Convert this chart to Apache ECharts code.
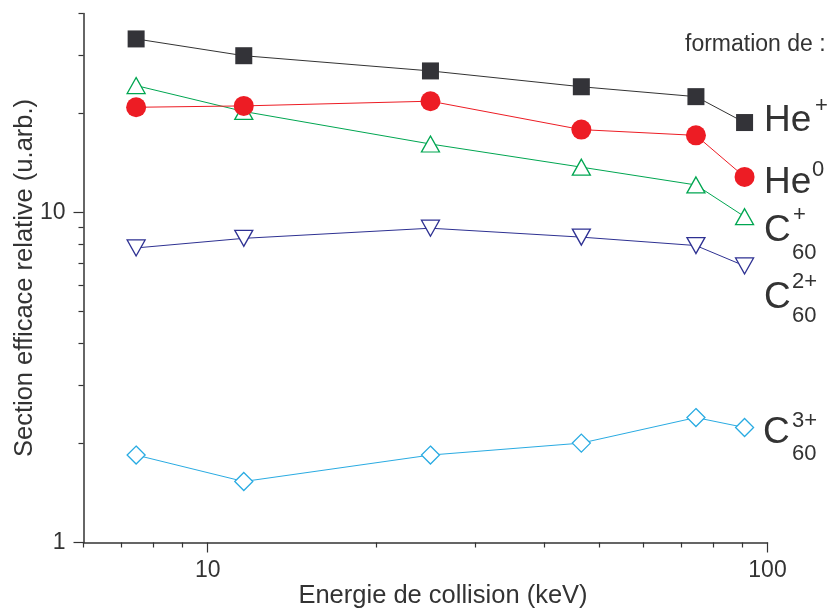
<!DOCTYPE html>
<html>
<head>
<meta charset="utf-8">
<script src="https://cdn.jsdelivr.net/npm/echarts@6/dist/echarts.min.js"></script>
<style>
  html, body { margin: 0; padding: 0; background: #ffffff; }
  #chart { width: 834px; height: 608px; }
</style>
</head>
<body>
<div id="chart"></div>
<script>
// ---- data ----
const energies      = [7.45, 11.6, 25.0, 46.5, 74.5, 91.0];   // keV
const hePlus        = [33.5, 29.8, 26.8, 24.0, 22.4, 18.7];
const heZero        = [20.8, 21.0, 21.7, 17.8, 17.1, 12.8];
const c60Plus       = [24.2, 20.2, 16.1, 13.7, 12.1, 9.7];
const c60TwoPlus    = [7.8, 8.34, 8.95, 8.41, 7.93, 6.88];
const c60ThreePlus  = [1.84, 1.53, 1.84, 2.00, 2.39, 2.23];

const xMajorTicks = [10, 100];
const xMinorTicks = [6, 7, 8, 9, 20, 30, 40, 50, 60, 70, 80, 90];
const yMajorTicks = [1, 10];
const yMinorTicks = [2, 3, 4, 5, 6, 7, 8, 9, 20, 30, 40];

const xTitle = 'Energie de collision (keV)';
const yTitle = 'Section efficace relative (u.arb.)';
const headerText = 'formation de :';

// ---- chart ----
const FONT = "'Liberation Sans', Arial, Helvetica, sans-serif";
const TXT = '#333333';
const AX = '#333333';

const pairs = arr => energies.map((e, i) => [e, arr[i]]);

const chart = echarts.init(document.getElementById('chart'), null, { renderer: 'canvas' });

function xAx(ticks, len, showLine, labels) {
  return {
    type: 'log', logBase: 10, min: 6, max: 100, position: 'bottom',
    axisLine: { show: showLine, onZero: false, lineStyle: { color: AX, width: 1.5 } },
    axisTick: { show: true, inside: false, length: len, customValues: ticks, lineStyle: { color: AX, width: 1.2 } },
    axisLabel: labels ? { show: true, customValues: labels, margin: 17, fontSize: 23, fontFamily: FONT, color: TXT } : { show: false },
    splitLine: { show: false }, minorTick: { show: false }
  };
}
function yAx(ticks, len, showLine, labels) {
  return {
    type: 'log', logBase: 10, min: 1, max: 40, position: 'left',
    axisLine: { show: showLine, onZero: false, lineStyle: { color: AX, width: 1.5 } },
    axisTick: { show: true, inside: false, length: len, customValues: ticks, lineStyle: { color: AX, width: 1.2 } },
    axisLabel: labels ? { show: true, customValues: labels, margin: 18, fontSize: 23, fontFamily: FONT, color: TXT } : { show: false },
    splitLine: { show: false }, minorTick: { show: false }
  };
}

const xMain = xAx(xMajorTicks, 10, true, xMajorTicks);
xMain.name = xTitle;
xMain.nameLocation = 'middle';
xMain.nameGap = 40;
xMain.nameMoveOverlap = false;
xMain.nameTextStyle = { fontSize: 25.5, fontFamily: FONT, color: TXT, padding: [0, 0, 0, 35] };

const yMain = yAx(yMajorTicks, 10, true, yMajorTicks);
yMain.name = yTitle;
yMain.nameLocation = 'middle';
yMain.nameGap = 46;
yMain.nameMoveOverlap = false;
yMain.nameTextStyle = { fontSize: 25.5, fontFamily: FONT, color: TXT };

function hollow(name, data, color, symbol, size, rotate, z) {
  return {
    name, type: 'line', data, xAxisIndex: 0, yAxisIndex: 0, z,
    symbol, symbolSize: size, symbolRotate: rotate, showAllSymbol: true,
    lineStyle: { color, width: 1 },
    itemStyle: { color: '#ffffff', borderColor: color, borderWidth: 1.3 },
    emphasis: { disabled: true }, animation: false
  };
}
function filled(name, data, color, lineColor, symbol, size, z) {
  return {
    name, type: 'line', data, xAxisIndex: 0, yAxisIndex: 0, z,
    symbol, symbolSize: size, showAllSymbol: true,
    lineStyle: { color: lineColor, width: 1 },
    itemStyle: { color, borderWidth: 0 },
    emphasis: { disabled: true }, animation: false
  };
}

function txt(text, x, y, size) {
  return {
    type: 'text', x, y, silent: true,
    style: { text, fontSize: size, fontFamily: FONT, fill: TXT, align: 'left', verticalAlign: 'middle' }
  };
}

chart.setOption({
  animation: false,
  backgroundColor: '#ffffff',
  grid: { left: 83.5, right: 66.5, top: 13.5, bottom: 65.5, containLabel: false, outerBoundsMode: 'none' },
  xAxis: [xMain, xAx(xMinorTicks, 5, false, null)],
  yAxis: [yMain, yAx(yMinorTicks, 5, false, null)],
  series: [
    hollow('C60 3+', pairs(c60ThreePlus), '#29abe2', 'diamond', 18, 0, 2),
    hollow('C60 2+', pairs(c60TwoPlus), '#2e3192', 'triangle', [18, 16], 180, 2),
    hollow('C60 +', pairs(c60Plus), '#00a651', 'triangle', [18, 16], 0, 3),
    filled('He0', pairs(heZero), '#ed1c24', '#ed1c24', 'circle', 20, 4),
    filled('He+', pairs(hePlus), '#333338', '#333333', 'rect', 17, 5)
  ],
  graphic: [
    txt(headerText, 685, 45, 23),
    txt('He', 764, 121, 37), txt('+', 815, 106, 22),
    txt('He', 764, 183, 37), txt('0', 812, 170, 22),
    txt('C', 764, 231, 37), txt('+', 793, 215, 22), txt('60', 792, 253, 22),
    txt('C', 764, 298, 37), txt('2+', 792, 282, 22), txt('60', 792, 316, 22),
    txt('C', 763, 433, 37), txt('3+', 792, 421, 22), txt('60', 792, 454, 22)
  ]
});
</script>
</body>
</html>
